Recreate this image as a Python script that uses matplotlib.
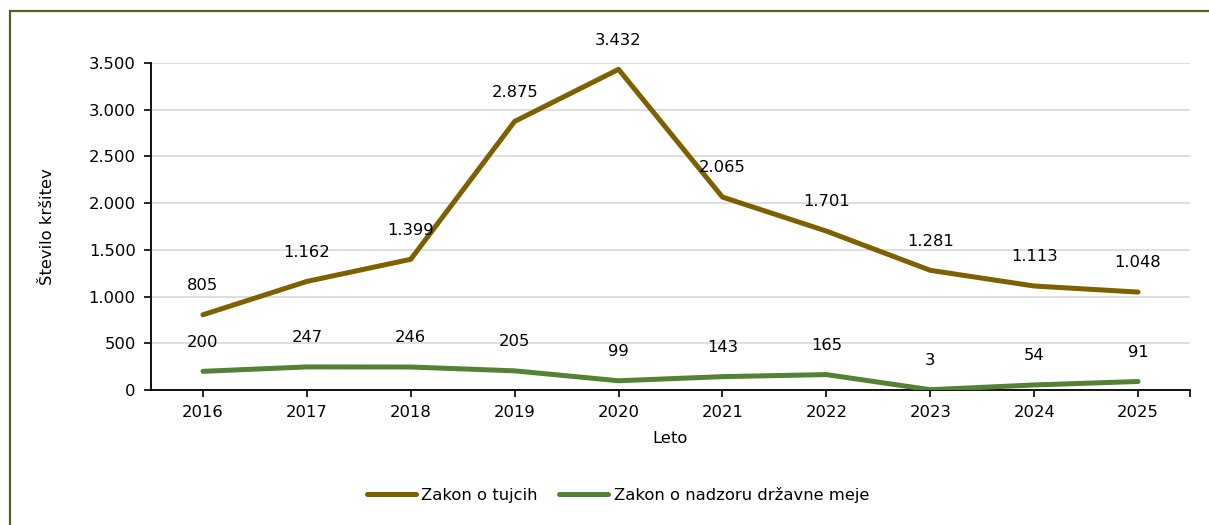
import matplotlib
matplotlib.use("Agg")
import matplotlib.pyplot as plt
from matplotlib.patches import Rectangle

years = ["2016", "2017", "2018", "2019", "2020", "2021", "2022", "2023", "2024", "2025"]
zakon_tujci = [805, 1162, 1399, 2875, 3432, 2065, 1701, 1281, 1113, 1048]
zakon_meja = [200, 247, 246, 205, 99, 143, 165, 3, 54, 91]
series_names = ["Zakon o tujcih", "Zakon o nadzoru državne meje"]
y_ticks = [0, 500, 1000, 1500, 2000, 2500, 3000, 3500]

def fmt(v):
    return f"{v:,}".replace(",", ".")

W, H = 1209, 525
fig = plt.figure(figsize=(W / 100, H / 100), dpi=100)
plt.rcParams['font.family'] = ['DejaVu Sans']
FS = 11.8

# outer frame
fig.patches.append(Rectangle((10 / W, -0.1), 1.2, 1 - 11 / H + 0.1, transform=fig.transFigure,
                             fill=False, edgecolor="#4f6228", linewidth=1.6, zorder=0))

ax = fig.add_axes([151 / W, 1 - 390 / H, (1190 - 151) / W, (390 - 63) / H])
x = list(range(len(years)))
colors = ["#7f6000", "#548235"]
for vals, c, name in zip([zakon_tujci, zakon_meja], colors, series_names):
    ax.plot(x, vals, color=c, linewidth=3.6, solid_capstyle="round", label=name, zorder=3)
    for xi, v in zip(x, vals):
        ax.annotate(fmt(v), (xi, v), xytext=(0, 21), textcoords="offset points",
                    ha="center", va="center", fontsize=FS, color="#000000", zorder=4)

ax.set_xlim(-0.5, len(years) - 0.5)
ax.set_ylim(0, 3500)
ax.set_yticks(y_ticks)
ax.set_yticklabels([fmt(v) for v in y_ticks], fontsize=FS)
ax.set_xticks(x + [len(years) - 0.5])
ax.set_xticklabels(years + [""], fontsize=FS)
ax.tick_params(axis="both", direction="out", length=5, width=1.2, color="black", pad=6)
ax.grid(axis="y", color="#d9d9d9", linewidth=1.2)
ax.set_axisbelow(True)
for s in ["top", "right"]:
    ax.spines[s].set_visible(False)
for s in ["left", "bottom"]:
    ax.spines[s].set_linewidth(1.3)
    ax.spines[s].set_color("black")

ax.set_xlabel("Leto", fontsize=FS, labelpad=8)
ax.set_ylabel("Število kršitev", fontsize=FS, labelpad=24)

fig.legend(loc="center", bbox_to_anchor=(618 / W, 1 - 495 / H), ncol=2, frameon=False,
           fontsize=FS, handlelength=3.0, handletextpad=0.35, columnspacing=1.3)

fig.savefig("out.png", dpi=100)
